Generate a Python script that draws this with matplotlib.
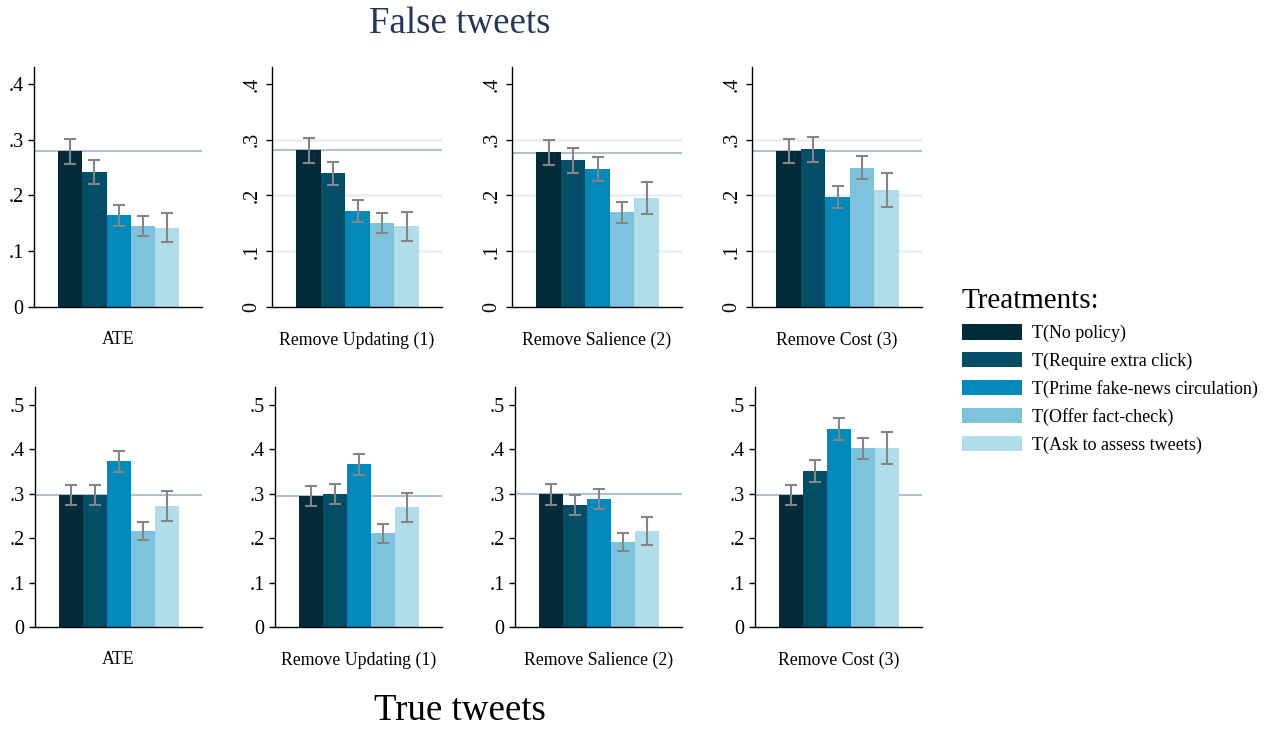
import matplotlib
matplotlib.use("Agg")
import matplotlib.pyplot as plt
import numpy as np

plt.rcParams['font.family'] = ['Liberation Serif', 'DejaVu Serif']

panels = ["ATE", "Remove Updating (1)", "Remove Salience (2)", "Remove Cost (3)"]
treatments = ["T(No policy)", "T(Require extra click)", "T(Prime fake-news circulation)",
              "T(Offer fact-check)", "T(Ask to assess tweets)"]
colors = ["#032a39", "#034d66", "#0189bb", "#7ec3dd", "#b1dcea"]

# False tweets (top row)
false_mean = [[0.280, 0.242, 0.165, 0.145, 0.142],
              [0.281, 0.240, 0.172, 0.150, 0.145],
              [0.278, 0.263, 0.248, 0.170, 0.195],
              [0.280, 0.283, 0.197, 0.249, 0.210]]
false_lo = [[0.257, 0.220, 0.146, 0.128, 0.116],
            [0.259, 0.218, 0.153, 0.133, 0.118],
            [0.255, 0.241, 0.226, 0.151, 0.166],
            [0.258, 0.260, 0.177, 0.229, 0.180]]
false_hi = [[0.302, 0.263, 0.183, 0.163, 0.168],
            [0.303, 0.260, 0.192, 0.168, 0.171],
            [0.299, 0.285, 0.269, 0.188, 0.224],
            [0.302, 0.305, 0.217, 0.271, 0.240]]
false_ref = [0.280, 0.281, 0.277, 0.280]

# True tweets (bottom row)
true_mean = [[0.297, 0.297, 0.373, 0.216, 0.272],
             [0.295, 0.299, 0.367, 0.211, 0.270],
             [0.299, 0.274, 0.288, 0.191, 0.216],
             [0.297, 0.351, 0.445, 0.403, 0.403]]
true_lo = [[0.274, 0.274, 0.349, 0.195, 0.238],
           [0.272, 0.276, 0.341, 0.190, 0.236],
           [0.275, 0.252, 0.266, 0.172, 0.185],
           [0.274, 0.327, 0.420, 0.377, 0.366]]
true_hi = [[0.320, 0.320, 0.396, 0.236, 0.305],
           [0.317, 0.322, 0.390, 0.232, 0.302],
           [0.322, 0.296, 0.311, 0.211, 0.247],
           [0.319, 0.375, 0.471, 0.426, 0.439]]
true_ref = [0.297, 0.295, 0.298, 0.297]

false_ticks = [0, 0.1, 0.2, 0.3, 0.4]
true_ticks = [0, 0.1, 0.2, 0.3, 0.4, 0.5]
false_grid = [0.1, 0.2, 0.3]

W, H = 1278, 729
fig = plt.figure(figsize=(W / 100, H / 100), dpi=100)

def fmt(v):
    return "0" if v == 0 else ("%.1f" % v)[1:]

rows = [
    dict(mean=false_mean, lo=false_lo, hi=false_hi, ref=false_ref, ticks=false_ticks,
         ylim=0.431, lefts=[34, 272, 512, 752], rights=[202, 442, 682, 922], top=66.7, bottom=307),
    dict(mean=true_mean, lo=true_lo, hi=true_hi, ref=true_ref, ticks=true_ticks,
         ylim=0.539, lefts=[35, 275, 515, 755], rights=[202, 442, 682, 922], top=387.3, bottom=627),
]

handles = None
for r, row in enumerate(rows):
    for p in range(4):
        l, rr = row['lefts'][p], row['rights'][p]
        ax = fig.add_axes([l / W, 1 - row['bottom'] / H, (rr - l) / W, (row['bottom'] - row['top']) / H])
        x = np.arange(5)
        m = np.array(row['mean'][p])
        lo = np.array(row['lo'][p])
        hi = np.array(row['hi'][p])
        if r == 0 and p > 0:
            for g in false_grid:
                ax.axhline(g, color="#eaf0f4", lw=2, zorder=0)
        ax.axhline(row['ref'][p], color="#b0c2d2", lw=1.5, zorder=1)
        bars = ax.bar(x, m, width=1.0, color=colors, zorder=2)
        ax.errorbar(x, m, yerr=[m - lo, hi - m], fmt='none', ecolor="#858585",
                    elinewidth=1.5, capsize=4.5, capthick=1.5, zorder=3)
        if handles is None:
            handles = list(bars)
        ax.set_xlim(-1.5, 5.45)
        ax.set_ylim(0, row['ylim'])
        ax.set_yticks(row['ticks'])
        ax.set_yticklabels([fmt(v) for v in row['ticks']])
        ax.set_xticks([])
        ax.spines['top'].set_visible(False)
        ax.spines['right'].set_visible(False)
        ax.spines['left'].set_linewidth(1.0)
        ax.spines['bottom'].set_linewidth(1.0)
        ax.tick_params(axis='y', length=4.5, width=1.0, labelsize=14.5, pad=3)
        if r == 0 and p > 0:
            ax.tick_params(axis='y', labelrotation=90)
            for t in ax.get_yticklabels():
                t.set_va('center')
        ax.set_xlabel(panels[p], fontsize=12.8, labelpad=17.5)

fig.text(0.36, 1 - 24 / H, "False tweets", ha='center', va='center', fontsize=26.6, color="#27375a")
fig.text(0.36, 1 - 711 / H, "True tweets", ha='center', va='center', fontsize=26.6, color="black")

leg = fig.legend(handles, treatments, loc='upper left', bbox_to_anchor=(962 / W, 1 - 288 / H),
                 frameon=False, fontsize=13, title="Treatments:", title_fontsize=21,
                 alignment='left', handlelength=3.3, handleheight=0.95, handletextpad=0.55,
                 labelspacing=0.55, borderpad=0, borderaxespad=0)

fig.savefig("out.png", dpi=100)
